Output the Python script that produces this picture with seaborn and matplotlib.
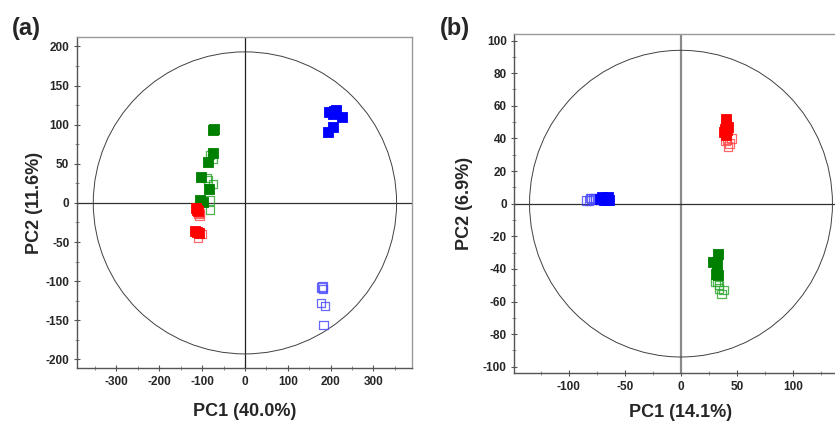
import numpy as np
import pandas as pd
import matplotlib
matplotlib.use("Agg")
import matplotlib.pyplot as plt
from matplotlib.patches import Ellipse
import seaborn as sns

sns.set_theme(style="white")
plt.rcParams['font.family'] = ['Liberation Sans', 'DejaVu Sans']
plt.rcParams['font.weight'] = 'bold'
plt.rcParams['axes.unicode_minus'] = False

# ---------------- Panel (a) data ----------------
a_blue_filled_x = [197, 209, 205, 226, 206, 195, 212]
a_blue_filled_y = [116, 118, 113, 110, 97, 91, 119]
a_blue_open_x = [179, 182, 178, 187, 183, 181]
a_blue_open_y = [-108, -110, -128, -132, -156, -107]

a_green_filled_x = [-74, -75, -86, -103, -83, -105, -99, -73]
a_green_filled_y = [93, 64, 52, 33, 18, 4, 1, 95]
a_green_open_x = [-82, -76, -90, -86, -75, -83, -82]
a_green_open_y = [61, 57, 32, 29, 24, 3, -9]

a_red_filled_x = [-114, -109, -113, -108, -116, -111]
a_red_filled_y = [-7, -11, -37, -39, -36, -9]
a_red_open_x = [-106, -105, -101, -110, -108]
a_red_open_y = [-16, -13, -40, -45, -14]

a_ellipse_rx, a_ellipse_ry = 354, 193
a_xlim, a_ylim = (-392, 390), (-211, 212)
a_xticks = [-300, -200, -100, 0, 100, 200, 300]
a_yticks = [-200, -150, -100, -50, 0, 50, 100, 150, 200]

# ---------------- Panel (b) data ----------------
b_blue_filled_x = [-72, -70, -68, -66, -64, -69, -65]
b_blue_filled_y = [3, 4, 3.5, 2.5, 2, 2, 4]
b_blue_open_x = [-84, -82, -80, -78, -76, -81]
b_blue_open_y = [2, 2, 3, 2.5, 3, 3.5]

b_red_filled_x = [40, 40, 39, 41, 38, 42, 40]
b_red_filled_y = [52, 49, 46, 45, 44, 47, 42]
b_red_open_x = [41, 45, 42, 39.5, 43]
b_red_open_y = [39, 40, 35, 38.5, 37]

b_green_filled_x = [32.7, 28.8, 31.7, 32.4, 31, 33]
b_green_filled_y = [-31, -35.7, -36, -42, -43, -44]
b_green_open_x = [32.4, 34, 34, 37.7, 36.3, 31]
b_green_open_y = [-48, -50, -52, -53, -55.4, -48]

b_ellipse_rx, b_ellipse_ry = 135, 94
b_xlim, b_ylim = (-148.6, 148.6), (-104, 104)
b_xticks = [-100, -50, 0, 50, 100]
b_yticks = [-100, -80, -60, -40, -20, 0, 20, 40, 60, 80, 100]

BLUE, RED, GREEN = "#0000ff", "#ff0000", "#008000"
BLUE_O, RED_O, GREEN_O = "#4d4dff", "#ff4d4d", "#33a833"

fig = plt.figure(figsize=(8.35, 4.23), dpi=100)
axA = fig.add_axes([77/835, 1-368/423, (412-77)/835, (368-37)/423])
axB = fig.add_axes([514.3/835, 1-373.3/423, (847.7-514.3)/835, (373.3-34)/423])


def scat(ax, xs, ys, col, filled):
    df = pd.DataFrame({"x": xs, "y": ys})
    if filled:
        sns.scatterplot(data=df, x="x", y="y", ax=ax, marker="s", s=42,
                        color=col, edgecolor=col, linewidth=0.6, zorder=3)
    else:
        sns.scatterplot(data=df, x="x", y="y", ax=ax, marker="s", s=38,
                        color=col, facecolor="none", edgecolor=col,
                        linewidth=0.9, alpha=0.85, zorder=3)


def style_axis(ax, xlim, ylim, xticks, yticks, xminor, yminor, rx, ry,
               xlabel, ylabel, vcol, vlw, xlabelpad, ylabelpad):
    ax.set_xlim(*xlim)
    ax.set_ylim(*ylim)
    ax.add_patch(Ellipse((0, 0), 2*rx, 2*ry, fill=False, ec="#404040", lw=0.7, zorder=2))
    ax.axvline(0, color=vcol, lw=vlw, zorder=1)
    ax.axhline(0, color="#303030", lw=0.9, zorder=1)
    ax.set_xticks(xticks)
    ax.set_yticks(yticks)
    ax.set_xticks(xminor, minor=True)
    ax.set_yticks(yminor, minor=True)
    ax.tick_params(axis="both", which="major", direction="inout", length=5,
                   width=0.8, color="#555555", labelsize=8.5, pad=3)
    ax.tick_params(axis="both", which="minor", direction="inout", length=3,
                   width=0.6, color="#777777")
    ax.tick_params(left=True, bottom=True, which="both")
    for lab in ax.get_xticklabels() + ax.get_yticklabels():
        lab.set_fontweight("bold")
    for s in ["left", "bottom"]:
        ax.spines[s].set_color("#555555")
        ax.spines[s].set_linewidth(1.0)
    for s in ["top", "right"]:
        ax.spines[s].set_color("#999999")
        ax.spines[s].set_linewidth(1.0)
    ax.set_xlabel(xlabel, fontsize=13, fontweight="bold", labelpad=xlabelpad)
    ax.set_ylabel(ylabel, fontsize=13, fontweight="bold", labelpad=ylabelpad)
    ax.grid(False)


# Panel (a)
for xs, ys, c, f in [(a_green_open_x, a_green_open_y, GREEN_O, False),
                     (a_red_open_x, a_red_open_y, RED_O, False),
                     (a_blue_open_x, a_blue_open_y, BLUE_O, False),
                     (a_green_filled_x, a_green_filled_y, GREEN, True),
                     (a_red_filled_x, a_red_filled_y, RED, True),
                     (a_blue_filled_x, a_blue_filled_y, BLUE, True)]:
    scat(axA, xs, ys, c, f)
style_axis(axA, a_xlim, a_ylim, a_xticks, a_yticks,
           np.arange(-350, 400, 50), np.arange(-200, 225, 25),
           a_ellipse_rx, a_ellipse_ry, "PC1 (40.0%)", "PC2 (11.6%)",
           "#202020", 0.9, 11, 2)

# Panel (b)
for xs, ys, c, f in [(b_blue_open_x, b_blue_open_y, BLUE_O, False),
                     (b_red_open_x, b_red_open_y, RED_O, False),
                     (b_green_open_x, b_green_open_y, GREEN_O, False),
                     (b_blue_filled_x, b_blue_filled_y, BLUE, True),
                     (b_red_filled_x, b_red_filled_y, RED, True),
                     (b_green_filled_x, b_green_filled_y, GREEN, True)]:
    scat(axB, xs, ys, c, f)
style_axis(axB, b_xlim, b_ylim, b_xticks, b_yticks,
           np.arange(-125, 150, 25), np.arange(-100, 110, 10),
           b_ellipse_rx, b_ellipse_ry, "PC1 (14.1%)", "PC2 (6.9%)",
           "#8a8a8a", 1.6, 8, 7)

fig.text(12/835, 1-28/423, "(a)", fontsize=17, fontweight="bold", va="center", ha="left")
fig.text(440/835, 1-29/423, "(b)", fontsize=17, fontweight="bold", va="center", ha="left")

fig.savefig("out.png", dpi=100)
